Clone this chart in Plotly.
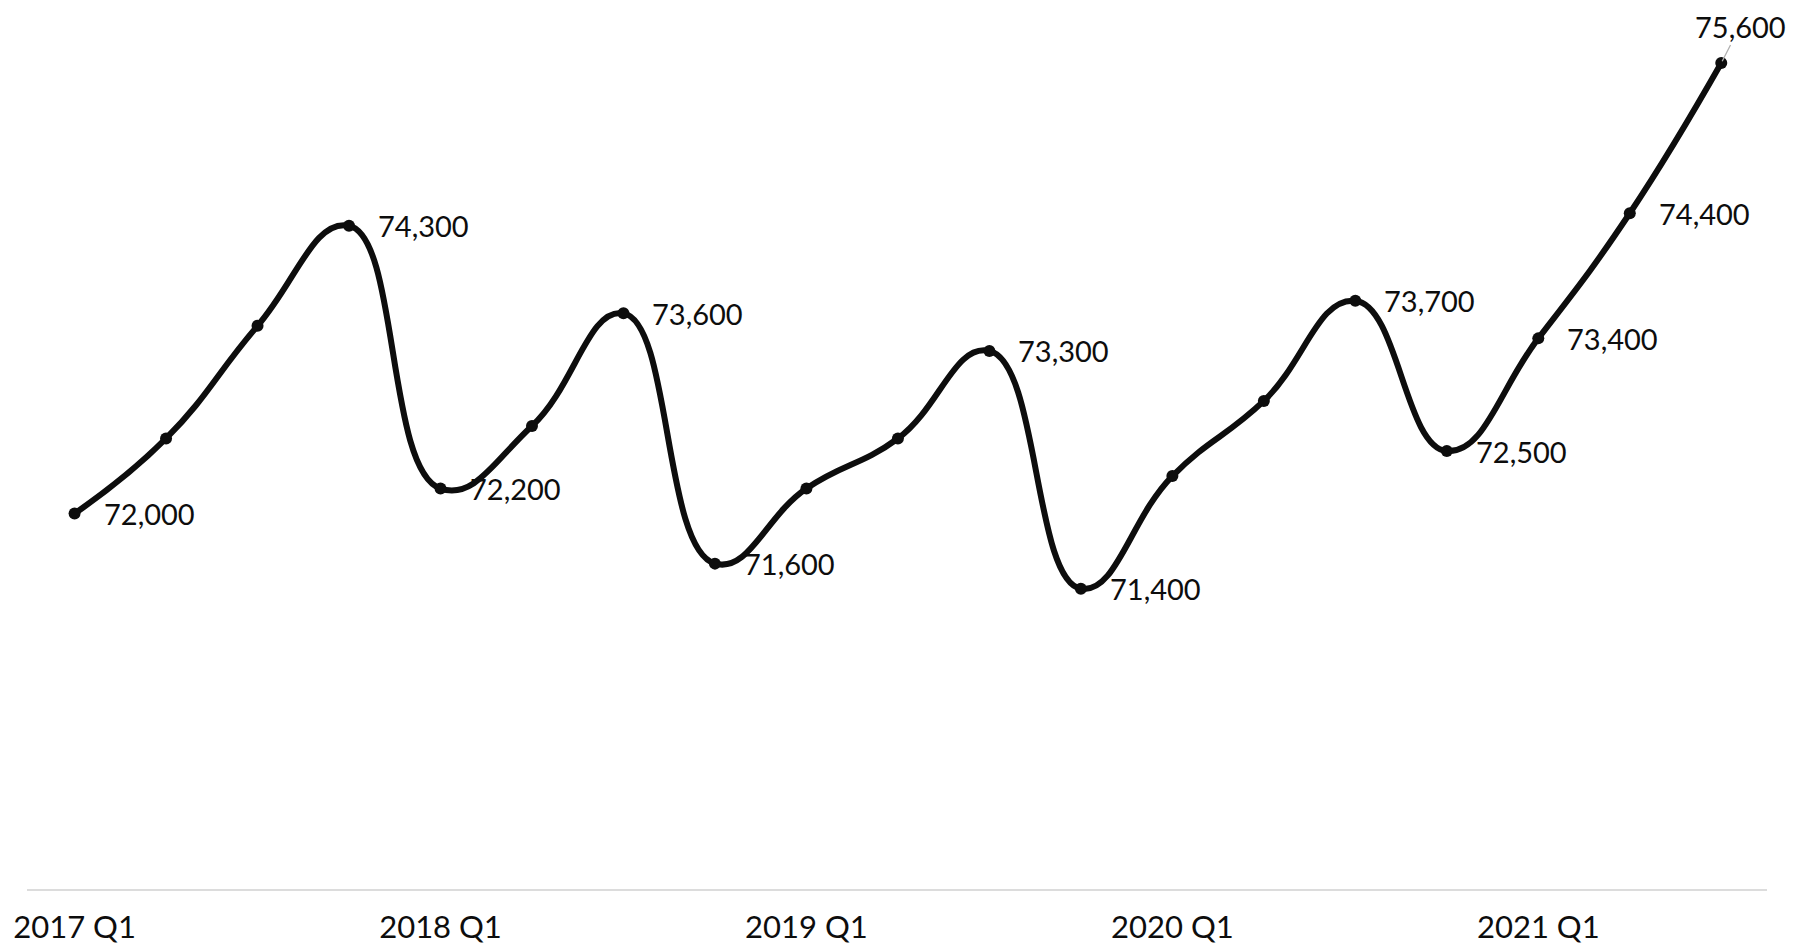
import plotly.graph_objects as go

quarters = ["2017 Q1", "2017 Q2", "2017 Q3", "2017 Q4",
            "2018 Q1", "2018 Q2", "2018 Q3", "2018 Q4",
            "2019 Q1", "2019 Q2", "2019 Q3", "2019 Q4",
            "2020 Q1", "2020 Q2", "2020 Q3", "2020 Q4",
            "2021 Q1", "2021 Q2", "2021 Q3"]
values = [72000, 72600, 73500, 74300,
          72200, 72700, 73600, 71600,
          72200, 72600, 73300, 71400,
          72300, 72900, 73700, 72500,
          73400, 74400, 75600]
labeled = [True, False, False, True,
           True, False, True, True,
           False, False, True, True,
           False, False, True, True,
           True, True, True]
tick_labels = ["2017 Q1", "2018 Q1", "2019 Q1", "2020 Q1", "2021 Q1"]

FONT = "Lato"
INK = "#0d0d0d"

fig = go.Figure()
fig.add_trace(go.Scatter(
    x=quarters, y=values, mode="lines+markers",
    line=dict(color=INK, width=6, shape="spline", smoothing=1.3),
    marker=dict(color=INK, size=12),
    hoverinfo="skip", showlegend=False,
))

annotations = []
n = len(values)
for i, (q, v, lab) in enumerate(zip(quarters, values, labeled)):
    if not lab:
        continue
    text = f"{v:,}"
    if i == n - 1:
        annotations.append(dict(
            x=q, y=v, text=text, showarrow=True, arrowhead=0,
            arrowcolor="#b0b0b0", arrowwidth=1.3, ax=19, ay=-37,
            standoff=2, font=dict(family=FONT, size=29, color=INK),
        ))
    else:
        annotations.append(dict(
            x=q, y=v, text=text, showarrow=False, xanchor="left",
            yanchor="middle", xshift=27, yshift=0,
            font=dict(family=FONT, size=29, color=INK),
        ))

fig.update_layout(
    width=1804, height=946,
    margin=dict(l=19, r=45, t=5, b=65),
    paper_bgcolor="white", plot_bgcolor="white",
    font=dict(family=FONT, color=INK),
    annotations=annotations,
    xaxis=dict(
        type="category", range=[-0.52, 18.5],
        tickmode="array", tickvals=tick_labels, ticktext=tick_labels,
        showline=True, linecolor="#dcdcdc", linewidth=1.5,
        showgrid=False, zeroline=False, ticks="",
        ticklabelstandoff=10,
        tickfont=dict(family=FONT, size=31, color=INK),
    ),
    yaxis=dict(
        range=[69000, 76000], visible=False, showgrid=False, zeroline=False,
    ),
)

fig.write_html("out.html")
